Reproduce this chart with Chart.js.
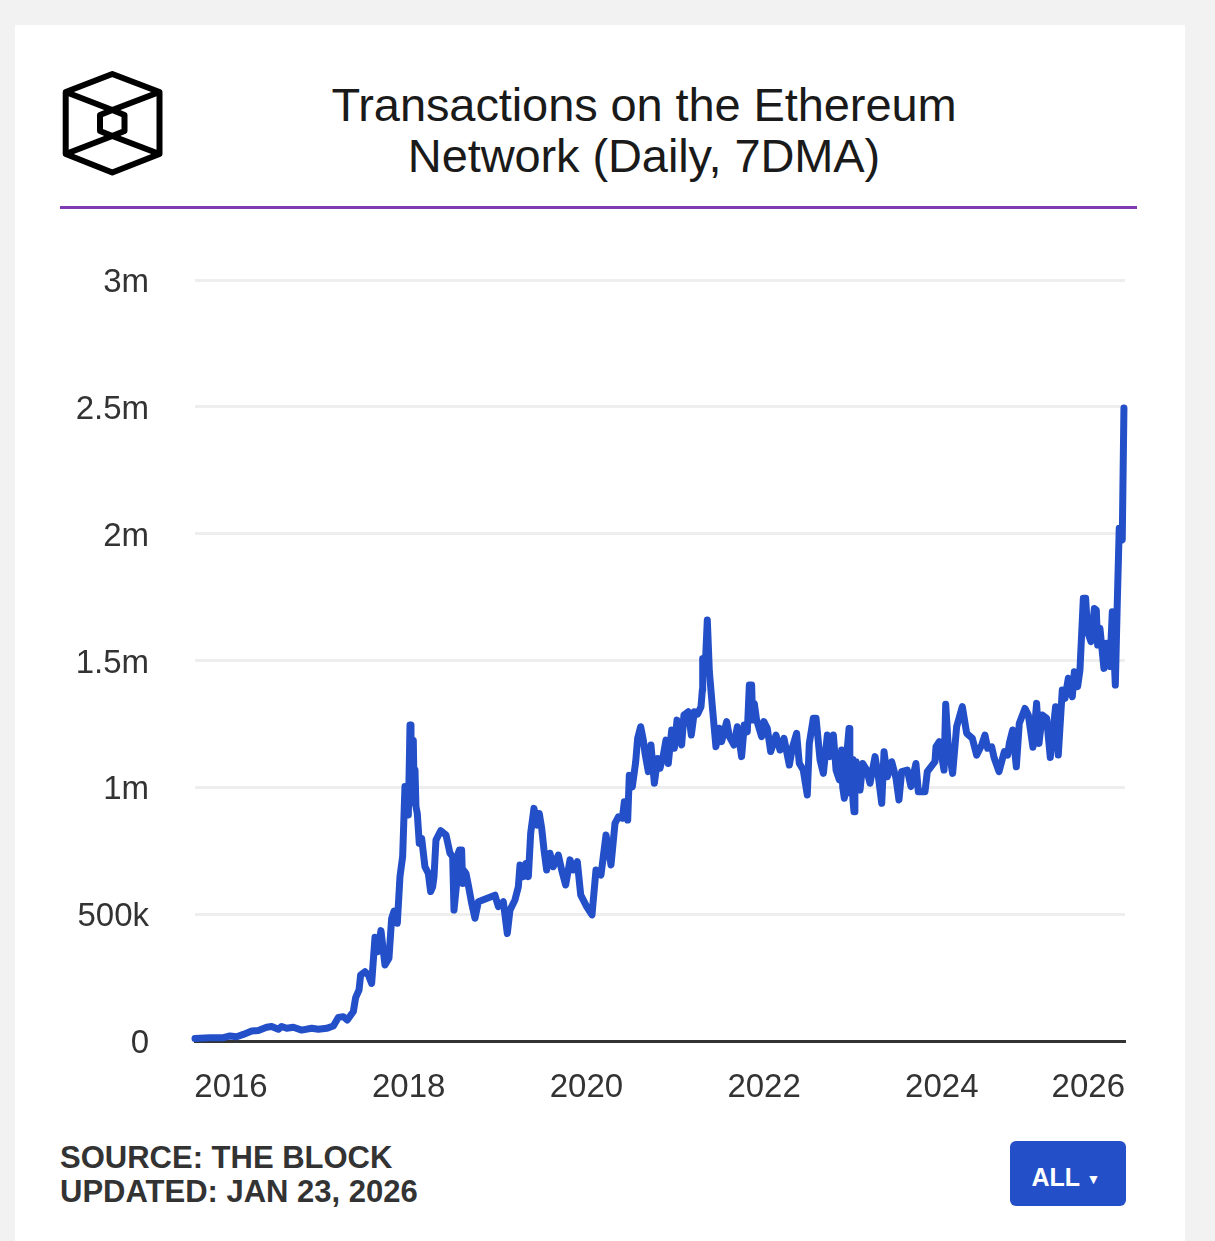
<!DOCTYPE html>
<html>
<head>
<meta charset="utf-8">
<title>Transactions on the Ethereum Network</title>
<script src="https://cdn.jsdelivr.net/npm/chart.js@4"></script>
<style>
  html, body { margin: 0; padding: 0; background: #f2f2f2; }
  body { width: 1215px; height: 1241px; position: relative; overflow: hidden; font-family: "Liberation Sans", sans-serif; }
  .card { position: absolute; left: 15px; top: 25px; width: 1170px; height: 1216px; background: #fff; }
  .logo { position: absolute; left: 0; top: 0; }
  .title { position: absolute; left: 60px; width: 1168px; top: 79px; text-align: center; font-size: 47px; line-height: 51px; color: #1a1a1a; letter-spacing: -0.1px; }
  .rule { position: absolute; left: 60px; top: 206px; width: 1077px; height: 3px; background: #7f3bb3; }
  #txChart { position: absolute; left: 60px; top: 240px; }
  .source { position: absolute; left: 60px; top: 1141px; font-size: 31px; line-height: 34px; font-weight: bold; color: #333; }
  .range { position: absolute; left: 1010px; top: 1141px; width: 112px; padding-right: 4px; height: 65px; background: #234fc8; border-radius: 6px; color: #fff; font-size: 25px; font-weight: bold; line-height: 73px; text-align: center; }
  .range span { font-size: 14px; vertical-align: 2px; margin-left: 0; }
</style>
</head>
<body>
<div class="card"></div>
<svg class="logo" width="220" height="200" fill="none" stroke="#000" stroke-width="6" stroke-linejoin="round">
  <polygon points="112.3,74 159.5,92 159.5,154 112.3,172.5 65.7,154 65.7,92"/>
  <polygon points="112.3,110 124.5,115 124.5,131 112.3,136 100,131 100,115"/>
  <polyline points="65.7,92 112.3,110 159.5,92"/>
  <polyline points="65.7,154 112.3,136 159.5,154"/>
</svg>
<div class="title">Transactions on the Ethereum<br>Network (Daily, 7DMA)</div>
<div class="rule"></div>
<canvas id="txChart" width="1100" height="880"></canvas>
<div class="source">SOURCE: THE BLOCK<br>UPDATED: JAN 23, 2026</div>
<div class="range">ALL <span>▼</span></div>

<script>
const xTickYears = [2016, 2018, 2020, 2022, 2024, 2026];
const yTickValues = [0, 500, 1000, 1500, 2000, 2500, 3000];
const yTickLabels = ['0', '500k', '1m', '1.5m', '2m', '2.5m', '3m'];

// decimal years
const years = [
  2015.595, 2015.764, 2015.914, 2015.989, 2016.064, 2016.139, 2016.233, 2016.308, 2016.401, 2016.458,
  2016.533, 2016.570, 2016.627, 2016.702, 2016.795, 2016.908, 2016.983, 2017.077, 2017.152, 2017.208,
  2017.264, 2017.309, 2017.377, 2017.403, 2017.441, 2017.459, 2017.508, 2017.546, 2017.583, 2017.621,
  2017.651, 2017.688, 2017.733, 2017.778, 2017.808, 2017.835, 2017.872, 2017.902, 2017.932, 2017.958,
  2017.996, 2018.015, 2018.026, 2018.037, 2018.052, 2018.063, 2018.071, 2018.082, 2018.097, 2018.119,
  2018.146, 2018.183, 2018.221, 2018.247, 2018.270, 2018.285, 2018.307, 2018.360, 2018.420, 2018.465,
  2018.495, 2018.510, 2018.540, 2018.558, 2018.570, 2018.596, 2018.607, 2018.615, 2018.645, 2018.671,
  2018.709, 2018.746, 2018.784, 2018.877, 2018.971, 2019.009, 2019.065, 2019.110, 2019.140, 2019.196,
  2019.234, 2019.253, 2019.290, 2019.320, 2019.347, 2019.373, 2019.410, 2019.448, 2019.470, 2019.497,
  2019.523, 2019.553, 2019.590, 2019.628, 2019.684, 2019.722, 2019.767, 2019.816, 2019.853, 2019.898,
  2019.936, 2020.003, 2020.063, 2020.108, 2020.164, 2020.221, 2020.277, 2020.322, 2020.360, 2020.405,
  2020.427, 2020.465, 2020.483, 2020.517, 2020.555, 2020.577, 2020.611, 2020.641, 2020.660, 2020.697,
  2020.727, 2020.765, 2020.802, 2020.828, 2020.866, 2020.896, 2020.922, 2020.960, 2020.990, 2021.020,
  2021.072, 2021.098, 2021.147, 2021.181, 2021.215, 2021.252, 2021.290, 2021.305, 2021.309, 2021.335,
  2021.361, 2021.384, 2021.421, 2021.458, 2021.496, 2021.522, 2021.579, 2021.609, 2021.661, 2021.699,
  2021.747, 2021.777, 2021.811, 2021.834, 2021.860, 2021.871, 2021.890, 2021.916, 2021.972, 2021.998,
  2022.036, 2022.074, 2022.134, 2022.179, 2022.224, 2022.284, 2022.321, 2022.366, 2022.396, 2022.441,
  2022.486, 2022.509, 2022.554, 2022.585, 2022.630, 2022.667, 2022.712, 2022.742, 2022.780, 2022.810,
  2022.847, 2022.873, 2022.885, 2022.903, 2022.920, 2022.929, 2022.956, 2022.965, 2022.974, 2022.990,
  2023.000, 2023.012, 2023.022, 2023.035, 2023.080, 2023.110, 2023.155, 2023.192, 2023.249, 2023.286,
  2023.324, 2023.350, 2023.387, 2023.436, 2023.485, 2023.518, 2023.548, 2023.612, 2023.653, 2023.709,
  2023.736, 2023.811, 2023.837, 2023.923, 2023.935, 2023.972, 2024.025, 2024.044, 2024.074, 2024.122,
  2024.167, 2024.231, 2024.280, 2024.344, 2024.392, 2024.449, 2024.486, 2024.516, 2024.561, 2024.591,
  2024.644, 2024.704, 2024.741, 2024.760, 2024.797, 2024.839, 2024.872, 2024.936, 2024.974, 2025.026,
  2025.067, 2025.094, 2025.131, 2025.180, 2025.221, 2025.281, 2025.311, 2025.356, 2025.386, 2025.424,
  2025.469, 2025.492, 2025.529, 2025.555, 2025.593, 2025.619, 2025.641, 2025.679, 2025.717, 2025.739,
  2025.754, 2025.780, 2025.825, 2025.855, 2025.892, 2025.919, 2025.953, 2025.975, 2025.997, 2026.031,
  2026.050
];

// daily transactions, 7DMA, in thousands
const txCounts = [
  10, 13, 13, 20, 17, 26, 39, 41, 54, 57,
  46, 57, 50, 54, 43, 50, 46, 50, 59, 93,
  96, 83, 116, 171, 201, 260, 273, 260, 227, 409,
  352, 435, 300, 326, 483, 512, 464, 648, 727, 1003,
  891, 1246, 989, 1173, 1186, 937, 1068, 924, 897, 779,
  799, 687, 661, 589, 608, 648, 792, 829, 812, 740,
  727, 516, 621, 740, 753, 753, 621, 674, 661, 615,
  543, 484, 549, 562, 575, 530, 549, 424, 516, 556,
  608, 694, 648, 700, 648, 819, 917, 851, 897, 838,
  753, 674, 740, 687, 733, 674, 615, 714, 674, 707,
  576, 530, 497, 674, 654, 812, 694, 858, 884, 878,
  943, 871, 1048, 1002, 1101, 1193, 1239, 1186, 1134, 1062,
  1167, 1016, 1114, 1075, 1127, 1186, 1094, 1226, 1154, 1265,
  1167, 1285, 1298, 1206, 1298, 1289, 1318, 1384, 1508, 1456,
  1660, 1456, 1305, 1160, 1233, 1180, 1259, 1200, 1167, 1239,
  1121, 1246, 1219, 1403, 1403, 1265, 1331, 1265, 1200, 1259,
  1233, 1141, 1206, 1147, 1193, 1088, 1160, 1213, 1095, 1068,
  970, 1173, 1272, 1272, 1108, 1055, 1206, 1121, 1206, 1068,
  1029, 1147, 1000, 957, 1000, 1121, 1232, 1050, 976, 1110,
  950, 904, 1000, 1101, 989, 1094, 1068, 1016, 1121, 1042,
  937, 1140, 1042, 1101, 1035, 950, 1062, 1068, 1003, 1094,
  983, 983, 1062, 1101, 1160, 1180, 1068, 1328, 1154, 1055,
  1239, 1318, 1213, 1193, 1127, 1167, 1206, 1154, 1160, 1114,
  1062, 1141, 1127, 1173, 1226, 1081, 1252, 1311, 1285, 1158,
  1331, 1173, 1285, 1272, 1118, 1318, 1127, 1384, 1351, 1430,
  1357, 1456, 1397, 1462, 1745, 1745, 1613, 1574, 1705, 1699,
  1561, 1627, 1469, 1568, 1476, 1692, 1403, 1725, 2021, 1975,
  2495
];

const BLUE = '#234fc8';
const INK = '#333333';

// last year label flush with the axis end, value labels sit a little low
const nudgeLabels = {
  id: 'nudgeLabels',
  afterLayout(chart) {
    const xItems = chart.scales.x.getLabelItems();
    const last = xItems[xItems.length - 1];
    last.options.textAlign = 'right';
    last.options.translation[0] = chart.chartArea.right;
    chart.scales.y.getLabelItems().forEach((item) => { item.options.translation[1] += 3; });
  },
};

new Chart(document.getElementById('txChart'), {
  type: 'line',
  data: {
    datasets: [{
      data: years.map((year, i) => ({ x: year, y: txCounts[i] })),
      borderColor: BLUE,
      borderWidth: 7,
      borderJoinStyle: 'round',
      borderCapStyle: 'round',
      pointRadius: 0,
      tension: 0,
      clip: false,
    }],
  },
  options: {
    responsive: false,
    animation: false,
    layout: { padding: { top: 40, right: 35, left: 0, bottom: 0 } },
    plugins: { legend: { display: false }, tooltip: { enabled: false } },
    scales: {
      x: {
        type: 'linear',
        min: 2015.595,
        max: 2026.062,
        afterBuildTicks: (scale) => { scale.ticks = xTickYears.map((value) => ({ value })); },
        afterFit: (scale) => { scale.height = 79; scale.paddingLeft = 0; scale.paddingRight = 0; },
        grid: { display: false, drawTicks: false },
        border: { display: true, color: INK, width: 3 },
        ticks: {
          autoSkip: false,
          maxRotation: 0,
          padding: 27,
          color: INK,
          font: { family: '"Liberation Sans"', size: 33 },
          callback: (value) => String(value),
        },
      },
      y: {
        min: 0,
        max: 3000,
        afterBuildTicks: (scale) => { scale.ticks = yTickValues.map((value) => ({ value })); },
        afterFit: (scale) => { scale.width = 135; scale.paddingTop = 0; scale.paddingBottom = 0; },
        grid: { color: '#eeeeee', lineWidth: 3, drawTicks: false },
        border: { display: false },
        ticks: {
          padding: 46,
          color: INK,
          font: { family: '"Liberation Sans"', size: 33 },
          callback: (value) => yTickLabels[yTickValues.indexOf(value)],
        },
      },
    },
  },
  plugins: [nudgeLabels],
});
</script>
</body>
</html>
